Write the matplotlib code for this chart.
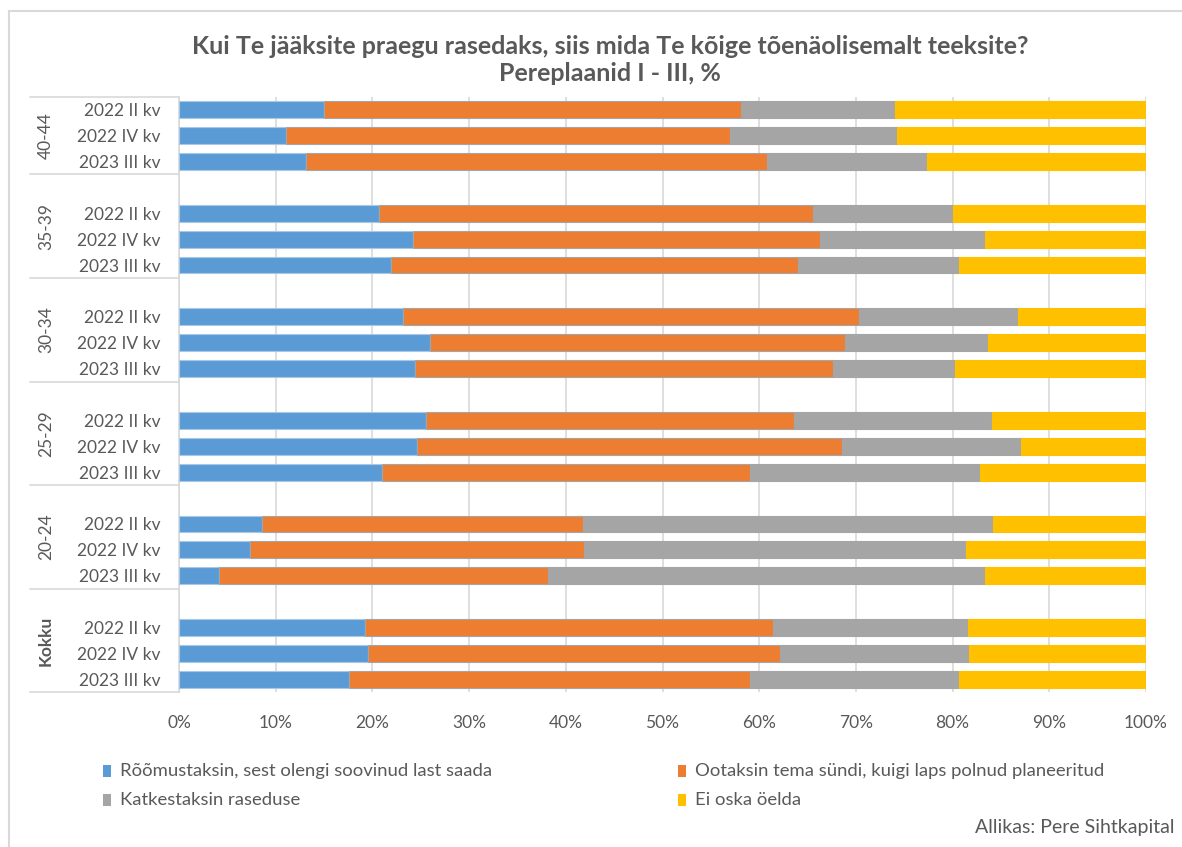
import matplotlib.pyplot as plt
from matplotlib.patches import Rectangle
from matplotlib.lines import Line2D
import matplotlib.transforms as mtransforms

plt.rcParams['font.family'] = ['Lato', 'DejaVu Sans']

# Data (percent), groups top to bottom
groups = ["40-44", "35-39", "30-34", "25-29", "20-24", "Kokku"]
periods = ["2022 II kv", "2022 IV kv", "2023 III kv"]

roomus = [15.0, 11.1, 13.1,  20.7, 24.2, 21.9,  23.2, 26.0, 24.4,
          25.5, 24.6, 21.0,  8.6, 7.3, 4.1,  19.2, 19.5, 17.6]
ootaks = [43.1, 45.9, 47.7,  44.9, 42.1, 42.1,  47.1, 42.9, 43.2,
          38.1, 44.0, 38.0,  33.2, 34.6, 34.1,  42.2, 42.7, 41.5]
katkest = [15.9, 17.2, 16.6,  14.4, 17.1, 16.7,  16.5, 14.8, 12.6,
           20.5, 18.5, 23.8,  42.4, 39.5, 45.2,  20.2, 19.5, 21.6]
ei_oska = [26.0, 25.8, 22.6,  20.0, 16.6, 19.3,  13.2, 16.3, 19.8,
           15.9, 12.9, 17.2,  15.8, 18.6, 16.6,  18.4, 18.3, 19.3]

series_names = ["Rõõmustaksin, sest olengi soovinud last saada",
                "Ootaksin tema sündi, kuigi laps polnud planeeritud",
                "Katkestaksin raseduse",
                "Ei oska öelda"]
colors = ["#5b9bd5", "#ed7d31", "#a5a5a5", "#ffc000"]
edges = ["#a9c8e8", "#a5a5a5", "#a5a5a5", "#ffc000"]

title = "Kui Te jääksite praegu rasedaks, siis mida Te kõige tõenäolisemalt teeksite?\nPereplaanid I - III, %"
source = "Allikas: Pere Sihtkapital"

text_col = "#595959"

fig = plt.figure(figsize=(11.82, 8.47), dpi=100)
W, H = 1182, 847
ax = fig.add_axes([179 / W, 1 - 692.3 / H, (1146 - 179) / W, (692.3 - 96.7) / H])

# slot positions: 3 bars per group, one blank slot between groups
ypos = []
group_spans = []
slot = 0
for gi, g in enumerate(groups):
    start = slot
    if gi > 0:
        slot += 1
    for p in periods:
        ypos.append(slot + 0.5)
        slot += 1
    group_spans.append((start, slot))
n_slots = slot

left = [0.0] * len(ypos)
for vals, c, ec in zip([roomus, ootaks, katkest, ei_oska], colors, edges):
    ax.barh(ypos, vals, left=left, height=0.65, color=c, edgecolor=ec,
            linewidth=0.8, zorder=3)
    left = [l + v for l, v in zip(left, vals)]

ax.set_xlim(0, 100)
ax.set_ylim(n_slots, 0)
ax.set_xticks(range(0, 101, 10))
ax.set_xticklabels([f"{t}%" for t in range(0, 101, 10)])
ax.xaxis.grid(True, color="#d9d9d9", linewidth=1.2, zorder=0)
ax.set_axisbelow(True)
for s in ["top", "right", "bottom"]:
    ax.spines[s].set_visible(False)
ax.spines["left"].set_color("#d9d9d9")
ax.spines["left"].set_linewidth(1.2)
ax.tick_params(axis="x", length=0, pad=16, labelsize=12.5, labelcolor=text_col)
ax.set_yticks(ypos)
ax.set_yticklabels(periods * len(groups))
ax.tick_params(axis="y", length=0, pad=13, labelsize=12.5, labelcolor=text_col)

# group labels and separators in the category area
trans = mtransforms.blended_transform_factory(ax.transAxes, ax.transData)
x_sep = (30 - 179) / (1146 - 179)
x_lab = (46 - 179) / (1146 - 179)
bounds = [0] + [e for _, e in group_spans]
for b in bounds:
    ax.add_line(Line2D([x_sep, 0], [b, b], transform=trans, color="#d9d9d9",
                       linewidth=1.2, clip_on=False))
for g, (s, e) in zip(groups, group_spans):
    ax.text(x_lab, (s + e) / 2, g, transform=trans, rotation=90, ha="center",
            va="center", fontsize=12.5, color=text_col,
            fontweight="bold" if g == "Kokku" else "normal")

# title
fig.text(610 / W, 1 - 60 / H, title, ha="center", va="center", fontsize=18,
         fontweight="bold", color=text_col, linespacing=1.25)

# legend, drawn by hand in two columns
leg_pos = [(103, 771), (678, 771), (103, 800), (678, 800)]
for name, c, (lx, ly) in zip(series_names, colors, leg_pos):
    fig.patches.append(Rectangle((lx / W, 1 - (ly + 6) / H), 8 / W, 12 / H,
                                 transform=fig.transFigure, facecolor=c,
                                 edgecolor="none"))
    fig.text((lx + 17) / W, 1 - ly / H, name, ha="left", va="center",
             fontsize=13.3, color=text_col)

fig.text(975 / W, 1 - 827 / H, source, ha="left", va="center", fontsize=14,
         color=text_col)

# chart frame
fig.patches.append(Rectangle((9 / W, -0.1), 1.2, 1 - 11 / H + 0.1,
                             transform=fig.transFigure, facecolor="none",
                             edgecolor="#d9d9d9", linewidth=1.5))

fig.savefig("out.png", dpi=100)
